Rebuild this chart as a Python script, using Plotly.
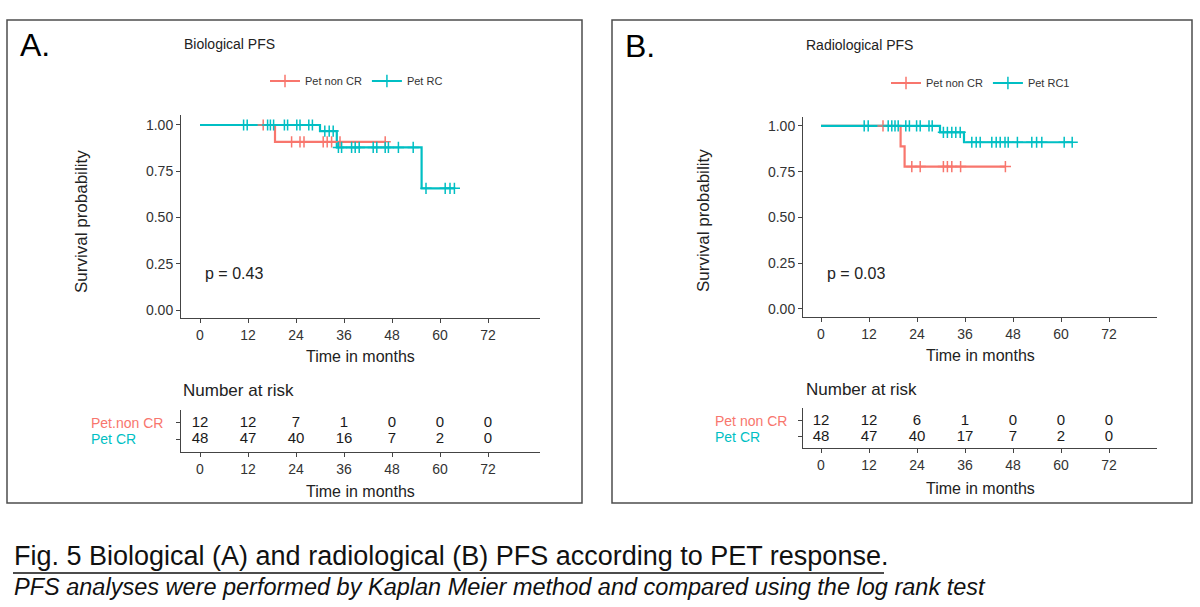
import plotly.graph_objects as go

W, H = 1200, 607
RED = "#F8766D"
TEAL = "#00BFC4"
FONT = "Liberation Sans, Arial, sans-serif"

time_ticks = [0, 12, 24, 36, 48, 60, 72]
surv_ticks = [0.0, 0.25, 0.5, 0.75, 1.0]
surv_ticklabels = ["0.00", "0.25", "0.50", "0.75", "1.00"]

# ---------- Panel A : Biological PFS ----------
a_groups = ["Pet non CR", "Pet RC"]
a_red_event_t = [18.75]
a_red_event_s = [0.909]
a_red_cens = [15.8, 22.9, 25.0, 26.0, 30.8, 31.8, 32.9, 35.0, 46.3]
a_teal_event_t = [30.0, 34.2, 55.4]
a_teal_event_s = [0.967, 0.879, 0.658]
a_teal_cens = [10.9, 11.8, 16.9, 17.6, 18.4, 21.1, 21.9, 24.2, 25.0, 27.2, 28.1,
               31.2, 32.3, 33.3, 34.6, 35.4, 37.9, 38.8, 39.8, 43.3, 44.2, 46.3,
               47.1, 49.6, 53.3, 56.5, 61.3, 62.5, 63.6]
a_risk_rows = ["Pet.non CR", "Pet CR"]
a_risk_red = [12, 12, 7, 1, 0, 0, 0]
a_risk_teal = [48, 47, 40, 16, 7, 2, 0]
a_pvalue = "p = 0.43"

# ---------- Panel B : Radiological PFS ----------
b_groups = ["Pet non CR", "Pet RC1"]
b_red_event_t = [19.9, 20.9]
b_red_event_s = [0.889, 0.778]
b_red_cens = [15.5, 22.7, 24.8, 30.6, 31.6, 32.7, 34.9, 46.1]
b_teal_event_t = [29.75, 35.75]
b_teal_event_s = [0.965, 0.911]
b_teal_cens = [10.8, 11.8, 16.8, 17.7, 18.5, 19.3, 21.2, 22.1, 23.9, 24.8, 27.0, 27.8,
               30.6, 31.6, 32.7, 33.7, 34.8, 37.7, 38.8, 39.8, 42.7, 43.8, 44.8, 46.0,
               46.8, 49.1, 52.7, 53.9, 55.2, 60.8, 62.8]
b_risk_rows = ["Pet non CR", "Pet CR"]
b_risk_red = [12, 12, 6, 1, 0, 0, 0]
b_risk_teal = [48, 47, 40, 17, 7, 2, 0]
b_pvalue = "p = 0.03"


def fx(px):
    return px / W


def fy(py):
    return 1 - py / H


def curve(ev_t, ev_s, cens):
    end = max(cens + ev_t)
    xs = [0] + ev_t + [end]
    ys = [1.0] + ev_s + [ev_s[-1]]
    cy = []
    for c in cens:
        s = 1.0
        for t, v in zip(ev_t, ev_s):
            if t <= c:
                s = v
        cy.append(s)
    return xs, ys, cy


fig = go.Figure()


def add_panel(xa, ya, xr, yr, legend, groups, red, teal, risk_rows, risk_red, risk_teal):
    for (ev_t, ev_s, cens), col in ((red, RED), (teal, TEAL)):
        xs, ys, _ = curve(ev_t, ev_s, cens)
        fig.add_trace(go.Scatter(x=xs, y=ys, mode="lines", line=dict(color=col, width=2.2, shape="hv"),
                                 xaxis=xa, yaxis=ya, showlegend=False, hoverinfo="skip"))
    for (ev_t, ev_s, cens), col in ((red, RED), (teal, TEAL)):
        _, _, cy = curve(ev_t, ev_s, cens)
        fig.add_trace(go.Scatter(x=cens, y=cy, mode="markers",
                                 marker=dict(symbol="cross-thin", size=8, line=dict(color=col, width=1.5)),
                                 xaxis=xa, yaxis=ya, showlegend=False, hoverinfo="skip"))
    for name, col in zip(groups, (RED, TEAL)):
        fig.add_trace(go.Scatter(x=[None], y=[None], mode="lines+markers", name=name,
                                 line=dict(color=col, width=2),
                                 marker=dict(symbol="cross-thin", size=9, line=dict(color=col, width=1.5)),
                                 xaxis=xa, yaxis=ya, legend=legend))
    fig.add_trace(go.Scatter(x=time_ticks + time_ticks,
                             y=[risk_rows[0]] * len(time_ticks) + [risk_rows[1]] * len(time_ticks),
                             text=[str(v) for v in risk_red + risk_teal], mode="text",
                             textfont=dict(size=15, color="#1a1a1a", family=FONT),
                             xaxis=xr, yaxis=yr, showlegend=False, hoverinfo="skip"))


add_panel("x", "y", "x2", "y2", "legend", a_groups,
          (a_red_event_t, a_red_event_s, a_red_cens), (a_teal_event_t, a_teal_event_s, a_teal_cens),
          a_risk_rows, a_risk_red, a_risk_teal)
add_panel("x3", "y3", "x4", "y4", "legend2", b_groups,
          (b_red_event_t, b_red_event_s, b_red_cens), (b_teal_event_t, b_teal_event_s, b_teal_cens),
          b_risk_rows, b_risk_red, b_risk_teal)

AX = dict(showline=True, linecolor="#444", linewidth=1, ticks="outside", ticklen=4, tickcolor="#444",
          tickfont=dict(size=14, color="#333", family=FONT), showgrid=False, zeroline=False, mirror=False)
AXR = {k: v for k, v in AX.items() if k != "tickfont"}

layout = dict(
    width=W, height=H, margin=dict(l=0, r=0, t=0, b=0),
    paper_bgcolor="white", plot_bgcolor="white",
    font=dict(family=FONT, color="#222"),
    xaxis=dict(domain=[fx(181), fx(540)], range=[-4.75, 85], tickvals=time_ticks, anchor="y", **AX),
    yaxis=dict(domain=[fy(318), fy(115)], range=[-0.043, 1.054], tickvals=surv_ticks,
               ticktext=surv_ticklabels, anchor="x", **AX),
    xaxis2=dict(domain=[fx(181), fx(540)], range=[-4.75, 85], tickvals=time_ticks, anchor="y2", **AX),
    yaxis2=dict(domain=[fy(452), fy(410)], range=[-0.81, 1.81], type="category",
                categoryarray=[a_risk_rows[1], a_risk_rows[0]], showticklabels=False, anchor="x2", **AXR),
    xaxis3=dict(domain=[fx(803), fx(1157)], range=[-4.5, 84], tickvals=time_ticks, anchor="y3", **AX),
    yaxis3=dict(domain=[fy(317), fy(117)], range=[-0.044, 1.049], tickvals=surv_ticks,
                ticktext=surv_ticklabels, anchor="x3", **AX),
    xaxis4=dict(domain=[fx(803), fx(1157)], range=[-4.5, 84], tickvals=time_ticks, anchor="y4", **AX),
    yaxis4=dict(domain=[fy(448), fy(408)], range=[-0.69, 1.81], type="category",
                categoryarray=[b_risk_rows[1], b_risk_rows[0]], showticklabels=False, anchor="x4", **AXR),
    legend=dict(orientation="h", x=fx(265), y=fy(81), xanchor="left", yanchor="middle",
                font=dict(size=11, color="#333", family=FONT), bgcolor="rgba(0,0,0,0)", itemwidth=30),
    legend2=dict(orientation="h", x=fx(886), y=fy(83), xanchor="left", yanchor="middle",
                 font=dict(size=11, color="#333", family=FONT), bgcolor="rgba(0,0,0,0)", itemwidth=30),
    showlegend=True,
)
fig.update_layout(**layout)

shapes = [
    dict(type="rect", xref="paper", yref="paper", x0=fx(7), x1=fx(582), y0=fy(503), y1=fy(20),
         line=dict(color="#4d4d4d", width=1.5)),
    dict(type="rect", xref="paper", yref="paper", x0=fx(612), x1=fx(1192), y0=fy(503), y1=fy(20),
         line=dict(color="#4d4d4d", width=1.5)),
    dict(type="line", xref="paper", yref="paper", x0=fx(13), x1=fx(884), y0=fy(573), y1=fy(573),
         line=dict(color="#111", width=1.5)),
]
fig.update_layout(shapes=shapes)


def ann(text, x, y, size, xanchor="left", color="#222", angle=0, italic=False):
    return dict(text=text, x=fx(x), y=fy(y), xref="paper", yref="paper", showarrow=False,
                xanchor=xanchor, yanchor="middle", textangle=angle,
                font=dict(size=size, color=color, family=FONT, style="italic" if italic else "normal"))


anns = [
    ann("A.", 18, 45, 32, color="#000"),
    ann("B.", 623, 46, 32, color="#000"),
    ann("Biological PFS", 182, 44, 14),
    ann("Radiological PFS", 804, 45, 14),
    ann("Survival probability", 82, 222, 17, xanchor="center", angle=-90),
    ann("Survival probability", 703, 221, 17, xanchor="center", angle=-90),
    ann("Time in months", 360, 356, 16, xanchor="center"),
    ann("Time in months", 980, 355, 16, xanchor="center"),
    ann(a_pvalue, 203, 273, 16),
    ann(b_pvalue, 825, 273, 16),
    ann("Number at risk", 181, 390, 17),
    ann("Number at risk", 804, 389, 17),
    ann(a_risk_rows[0], 89, 423, 14, color=RED),
    ann(a_risk_rows[1], 89, 439, 14, color=TEAL),
    ann(b_risk_rows[0], 713, 421, 14, color=RED),
    ann(b_risk_rows[1], 713, 437, 14, color=TEAL),
    ann("Time in months", 360, 491, 16, xanchor="center"),
    ann("Time in months", 980, 488, 16, xanchor="center"),
    ann("Fig. 5 Biological (A) and radiological (B) PFS according to PET response.", 12, 556, 27, color="#111"),
    ann("PFS analyses were performed by Kaplan Meier method and compared using the log rank test", 12, 587, 23.5,
        color="#111", italic=True),
]
fig.update_layout(annotations=anns)

fig.write_html("out.html")
